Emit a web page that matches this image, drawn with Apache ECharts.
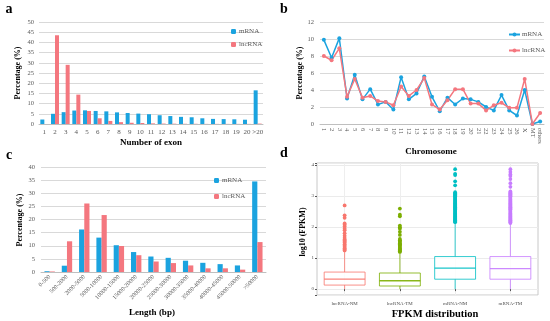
<!DOCTYPE html>
<html><head><meta charset="utf-8">
<script src="https://cdn.jsdelivr.net/npm/echarts@6/dist/echarts.min.js"></script>
<style>html,body{margin:0;padding:0;background:#fff}#c{width:550px;height:321px}</style>
</head><body><div id="c"></div>
<script>
// ---- Panel a: number of exons ----
const exonCats = ['1','2','3','4','5','6','7','8','9','10','11','12','13','14','15','16','17','18','19','20','>20'];
const exonMRNA = [2.2, 5.0, 5.8, 6.6, 6.7, 6.4, 6.2, 5.7, 5.4, 5.1, 4.8, 4.3, 3.9, 3.5, 3.3, 2.8, 2.5, 2.4, 2.3, 2.1, 16.5];
const exonLnc  = [0, 43.5, 29.0, 14.4, 6.4, 2.8, 1.5, 0.9, 0.6, 0.5, 0.3, 0.2, 0.15, 0.1, 0.1, 0.05, 0.05, 0.05, 0.05, 0.05, 0.2];
// ---- Panel b: chromosome ----
const chromCats = ['1','2','3','4','5','6','7','8','9','10','11','12','13','14','15','16','17','18','19','20','21','22','23','24','25','26','X','MT','others'];
const chromMRNA = [9.9, 7.8, 10.1, 3.0, 5.8, 2.9, 4.1, 2.3, 2.6, 1.7, 5.5, 2.9, 3.6, 5.6, 3.2, 1.5, 3.1, 2.3, 3.0, 2.9, 2.6, 2.0, 1.6, 3.4, 1.6, 1.0, 4.0, 0.0, 0.3];
const chromLnc  = [8.0, 7.5, 8.9, 3.2, 5.3, 3.1, 3.3, 2.7, 2.6, 2.2, 4.4, 3.3, 4.0, 5.4, 2.3, 1.7, 2.8, 4.1, 4.1, 2.4, 2.4, 1.6, 2.2, 2.5, 1.9, 1.9, 5.3, 0.0, 1.3];
// ---- Panel c: length ----
const lenCats = ['0-500','500-2000','2000-5000','5000-10000','10000-15000','15000-20000','20000-25000','25000-30000','30000-35000','35000-40000','40000-45000','45000-50000','>50000'];
const lenMRNA = [0.3, 2.4, 16.2, 13.1, 10.2, 7.6, 5.9, 5.4, 4.3, 3.5, 3.0, 2.5, 34.5];
const lenLnc  = [0.2, 11.7, 26.1, 21.7, 9.9, 6.4, 4.0, 3.4, 2.5, 1.4, 1.4, 0.9, 11.4];
// ---- Panel d: FPKM boxplots ----
const fpkmCats = ['lncRNA-NM','lncRNA-TM','mRNA-NM','mRNA-TM'];
// [lower whisker, Q1, median, Q3, upper whisker]
const fpkmBox = [
  [0, 0.13, 0.32, 0.55, 1.2],
  [0, 0.10, 0.27, 0.52, 1.15],
  [0, 0.32, 0.68, 1.05, 2.13],
  [0, 0.32, 0.66, 1.05, 2.10]
];
const fpkmOut = [
  [1.25,1.28,1.32,1.36,1.4,1.45,1.5,1.53,1.57,1.6,1.65,1.72,1.8,1.9,1.95,2.02,2.08,2.12,2.3,2.38,2.7],
  [1.2,1.22,1.25,1.28,1.3,1.33,1.36,1.4,1.42,1.45,1.48,1.52,1.55,1.58,1.62,1.75,1.85,1.95,2.0,2.05,2.35,2.4,2.6],
  [2.16,2.19,2.22,2.25,2.28,2.31,2.34,2.37,2.4,2.43,2.46,2.49,2.52,2.55,2.58,2.61,2.64,2.67,2.7,2.73,2.76,2.79,2.82,2.85,2.88,2.91,2.94,2.97,3.0,3.03,3.06,3.09,3.13,3.35,3.48,3.68,3.72,3.87],
  [2.13,2.16,2.19,2.22,2.25,2.28,2.31,2.34,2.37,2.4,2.43,2.46,2.49,2.52,2.55,2.58,2.61,2.64,2.67,2.7,2.73,2.76,2.79,2.82,2.85,2.88,2.91,2.94,2.97,3.0,3.03,3.06,3.09,3.12,3.15,3.3,3.42,3.55,3.65,3.7,3.78,3.87]
];

const BLUE = '#1BA3DF', RED = '#F4777F';
const BOXC = ['#F8766D','#7CAE00','#00BFC4','#C77CFF'];
const SERIF = 'Liberation Serif';
const TICK = {fontFamily: SERIF, fontSize: 6.5, color: '#595959'};
const GRIDLINE = {lineStyle: {color: '#D9D9D9', width: 1}};

const chart = echarts.init(document.getElementById('c'), null, {renderer: 'canvas'});

function txt(x, y, s, size, rot) {
  return {type: 'text', x: x, y: y, rotation: rot || 0,
    style: {text: s, fontFamily: SERIF, fontWeight: 'bold', fontSize: size, fill: '#000', align: 'center', verticalAlign: 'middle'}};
}

const option = {
  backgroundColor: '#fff',
  animation: false,
  grid: [
    {left: 39, top: 22, width: 224, height: 102},
    {left: 320, top: 22, width: 224, height: 102},
    {left: 41, top: 167, width: 225, height: 105},
    {left: 317, top: 163, width: 221, height: 132, show: true, borderColor: '#C8C8C8', borderWidth: 1, backgroundColor: '#fff'}
  ],
  xAxis: [
    {gridIndex: 0, type: 'category', data: exonCats, axisTick: {show: false},
     axisLine: {lineStyle: {color: '#BFBFBF'}}, axisLabel: {interval: 0, margin: 5, fontSize: 7, fontFamily: SERIF, color: '#595959'}},
    {gridIndex: 1, type: 'category', data: chromCats, boundaryGap: true, axisTick: {show: false},
     axisLine: {lineStyle: {color: '#BFBFBF'}}, axisLabel: {interval: 0, rotate: -90, margin: 4, fontSize: 6.5, fontFamily: SERIF, color: '#595959'}},
    {gridIndex: 2, type: 'category', data: lenCats, axisTick: {show: false},
     axisLine: {lineStyle: {color: '#BFBFBF'}}, axisLabel: {interval: 0, rotate: 45, margin: 4, fontSize: 6, fontFamily: SERIF, color: '#595959'}},
    {gridIndex: 3, type: 'category', data: fpkmCats, axisLine: {show: false},
     axisTick: {show: true, alignWithLabel: true, length: 2, lineStyle: {color: '#555'}},
     splitLine: {show: true, alignWithLabel: true, lineStyle: {color: '#EEEEEE'}},
     axisLabel: {interval: 0, margin: 6, fontSize: 5, fontFamily: SERIF, color: '#4D4D4D'}}
  ],
  yAxis: [
    {gridIndex: 0, type: 'value', min: 0, max: 50, interval: 5, axisLabel: Object.assign({margin: 5}, TICK), splitLine: GRIDLINE, axisLine: {show: false}, axisTick: {show: false}},
    {gridIndex: 1, type: 'value', min: 0, max: 12, interval: 2, axisLabel: Object.assign({margin: 6}, TICK), splitLine: GRIDLINE, axisLine: {show: false}, axisTick: {show: false}},
    {gridIndex: 2, type: 'value', min: 0, max: 40, interval: 5, axisLabel: Object.assign({margin: 6}, TICK), splitLine: GRIDLINE, axisLine: {show: false}, axisTick: {show: false}},
    {gridIndex: 3, type: 'value', min: -0.19, max: 4.07, splitNumber: 5,
     axisLabel: {margin: 3, fontSize: 5, fontFamily: SERIF, color: '#4D4D4D',
       formatter: v => (Math.abs(v - Math.round(v)) < 1e-6 ? String(Math.round(v)) : '')},
     axisTick: {show: true, length: 2, lineStyle: {color: '#555'}},
     axisLine: {show: false}, splitLine: {show: true, lineStyle: {color: '#EBEBEB'}}}
  ],
  legend: [
    {data: ['mRNA', 'lncRNA'], orient: 'vertical', left: 226, top: 23, itemWidth: 5, itemHeight: 5, itemGap: 6,
     selectedMode: false, textStyle: {fontFamily: SERIF, fontSize: 7, color: '#595959', padding: [0,0,0,-2]}, formatter: n => n.trim()},
    {data: ['mRNA ', 'lncRNA '], orient: 'vertical', left: 503, top: 26, itemWidth: 11, itemHeight: 5, itemGap: 9,
     selectedMode: false, textStyle: {fontFamily: SERIF, fontSize: 7, color: '#595959', padding: [0,0,0,-3]}, formatter: n => n.trim()},
    {data: ['mRNA  ', 'lncRNA  '], orient: 'vertical', left: 209, top: 172, itemWidth: 5, itemHeight: 5, itemGap: 9,
     selectedMode: false, textStyle: {fontFamily: SERIF, fontSize: 7, color: '#595959', padding: [0,0,0,-2]}, formatter: n => n.trim()}
  ],
  series: [
    {name: 'mRNA', type: 'bar', xAxisIndex: 0, yAxisIndex: 0, data: exonMRNA, itemStyle: {color: BLUE}, barGap: '0%', barCategoryGap: '25%'},
    {name: 'lncRNA', type: 'bar', xAxisIndex: 0, yAxisIndex: 0, data: exonLnc, itemStyle: {color: RED}, barGap: '0%', barCategoryGap: '25%'},
    {name: 'mRNA ', type: 'line', xAxisIndex: 1, yAxisIndex: 1, data: chromMRNA, symbol: 'circle', symbolSize: 4,
     itemStyle: {color: BLUE}, lineStyle: {color: BLUE, width: 1.5}},
    {name: 'lncRNA ', type: 'line', xAxisIndex: 1, yAxisIndex: 1, data: chromLnc, symbol: 'circle', symbolSize: 4,
     itemStyle: {color: RED}, lineStyle: {color: RED, width: 1.5}},
    {name: 'mRNA  ', type: 'bar', xAxisIndex: 2, yAxisIndex: 2, data: lenMRNA, itemStyle: {color: BLUE}, barGap: '0%', barCategoryGap: '40%'},
    {name: 'lncRNA  ', type: 'bar', xAxisIndex: 2, yAxisIndex: 2, data: lenLnc, itemStyle: {color: RED}, barGap: '0%', barCategoryGap: '40%'},
    {name: 'box', type: 'custom', xAxisIndex: 3, yAxisIndex: 3,
     data: fpkmBox.map((b, i) => [i].concat(b)),
     encode: {x: 0, y: [1, 2, 3, 4, 5]},
     renderItem: function (params, api) {
       const x = api.value(0);
       const pMin = api.coord([x, api.value(1)]);
       const pQ1 = api.coord([x, api.value(2)]);
       const pMed = api.coord([x, api.value(3)]);
       const pQ3 = api.coord([x, api.value(4)]);
       const pMax = api.coord([x, api.value(5)]);
       const w = api.size([1, 0])[0] * 0.74;
       const col = BOXC[params.dataIndex];
       const st = {stroke: col, lineWidth: 1, fill: null, opacity: 0.8};
       return {type: 'group', children: [
         {type: 'line', shape: {x1: pQ3[0], y1: pQ3[1], x2: pMax[0], y2: pMax[1]}, style: st},
         {type: 'line', shape: {x1: pQ1[0], y1: pQ1[1], x2: pMin[0], y2: pMin[1]}, style: st},
         {type: 'rect', shape: {x: pQ3[0] - w / 2, y: pQ3[1], width: w, height: pQ1[1] - pQ3[1]}, style: {stroke: col, lineWidth: 1, fill: '#fff', opacity: 0.8}},
         {type: 'line', shape: {x1: pMed[0] - w / 2, y1: pMed[1], x2: pMed[0] + w / 2, y2: pMed[1]}, style: {stroke: col, lineWidth: 1.3, opacity: 0.9}}
       ]};
     }}
  ].concat(fpkmOut.map((arr, i) => ({
    name: 'out' + i, type: 'scatter', xAxisIndex: 3, yAxisIndex: 3, symbolSize: 3.8,
    itemStyle: {color: BOXC[i], opacity: 1},
    data: arr.map(v => [i, v])
  }))),
  graphic: [
    txt(9, 9, 'a', 14), txt(284, 9, 'b', 14), txt(9, 155, 'c', 14), txt(284, 153, 'd', 14),
    txt(151, 143, 'Number of exon', 9),
    txt(18, 73, 'Percentage (%)', 8, Math.PI / 2),
    txt(431, 152, 'Chromosome', 9),
    txt(300, 73, 'Percentage (%)', 8, Math.PI / 2),
    txt(152, 313, 'Length (bp)', 9),
    txt(20, 220, 'Percentage (%)', 8, Math.PI / 2),
    txt(435, 314, 'FPKM distribution', 10.5),
    txt(303, 232, 'log10 (FPKM)', 8, Math.PI / 2)
  ]
};
chart.setOption(option);
</script></body></html>
